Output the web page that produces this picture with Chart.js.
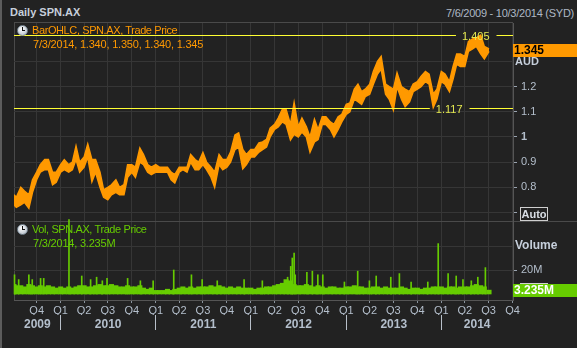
<!DOCTYPE html>
<html><head><meta charset="utf-8">
<script src="https://cdn.jsdelivr.net/npm/chart.js@4.4.1/dist/chart.umd.min.js"></script>
<style>
html,body{margin:0;padding:0;background:#ffffff;width:581px;height:351px;overflow:hidden}
#wrap{position:absolute;left:0;top:0;width:577px;height:348px;background:#222222;overflow:hidden}
#edge{position:absolute;left:0;top:0;width:2px;height:348px;background:#5c5c5c}
canvas{position:absolute;left:0;top:0}
.t{position:absolute;font-family:"Liberation Sans",Arial,sans-serif;font-size:11px;line-height:13px;white-space:nowrap}
.ln{position:absolute;background:#4a4a4a}
.clk{position:absolute;width:9px;height:9px;border-radius:50%;background:radial-gradient(circle at 40% 35%,#ffffff,#aab4c0);border:1px solid #7a8894}
.clk:before{content:"";position:absolute;left:4px;top:1px;width:1px;height:4px;background:#111}
.clk:after{content:"";position:absolute;left:4px;top:4px;width:3px;height:1px;background:#111}
</style></head><body>
<div id="wrap">
 <div id="edge"></div>
 <div class="t" style="left:10px;top:6px;font-weight:bold;color:#c6cfdb;">Daily SPN.AX</div>
 <div class="t" style="right:3px;top:7px;color:#aeb8c4;letter-spacing:-0.25px">7/6/2009 - 10/3/2014 (SYD)</div>
 <div class="t" style="left:515px;top:42px;font-weight:bold;color:#c6cfdb;">Price</div>
 <div class="t" style="left:520px;top:283px;width:26px;height:12px;border:1px solid #cfcfcf"></div>
 <div class="ln" style="left:14px;top:22px;width:499px;height:1px"></div>
 <div class="ln" style="left:14px;top:22px;width:1px;height:279px"></div>
 <div class="ln" style="left:14px;top:221px;width:563px;height:1px"></div>
 <canvas id="pc" width="577" height="348"></canvas>
 <canvas id="vc" width="577" height="348"></canvas>
 <div class="clk" style="left:17px;top:25px"></div>
 <div class="t" style="left:32px;top:24px;color:#ff9900;letter-spacing:-0.4px">BarOHLC, SPN.AX, Trade Price</div>
 <div class="t" style="left:33px;top:38px;color:#ff9900;letter-spacing:-0.2px">7/3/2014, 1.340, 1.350, 1.340, 1.345</div>
 <div class="clk" style="left:17px;top:224px"></div>
 <div class="t" style="left:32px;top:223px;color:#66cc00;letter-spacing:-0.4px">Vol, SPN.AX, Trade Price</div>
 <div class="t" style="left:33px;top:237px;color:#66cc00;letter-spacing:-0.2px">7/3/2014, 3.235M</div>
 <div class="t" style="left:515px;top:55px;font-weight:bold;color:#c6cfdb;">AUD</div>
 <div class="t" style="left:520px;top:207px;width:26px;height:12px;border:1px solid #cfcfcf;font-weight:bold;color:#d8dde4;text-align:center;line-height:12px">Auto</div>
 <div class="t" style="left:515px;top:239px;font-weight:bold;color:#c6cfdb;font-size:12px">Volume</div>
</div>
<script>
// ---------- data ----------
const dates = [
'2009-07-06','2009-07-15','2009-08-01','2009-08-15','2009-09-01','2009-09-15','2009-10-01','2009-10-15','2009-11-01','2009-11-15','2009-12-01','2009-12-15',
'2010-01-01','2010-01-15','2010-02-01','2010-02-15','2010-03-01','2010-03-15','2010-04-01','2010-04-15','2010-05-01','2010-05-15','2010-06-01','2010-06-15',
'2010-07-01','2010-07-15','2010-08-01','2010-08-15','2010-09-01','2010-09-15','2010-10-01','2010-10-15','2010-11-01','2010-11-15','2010-12-01','2010-12-15',
'2011-01-01','2011-01-15','2011-02-01','2011-02-15','2011-03-01','2011-03-15','2011-04-01','2011-04-15','2011-05-01','2011-05-15','2011-06-01','2011-06-15',
'2011-07-01','2011-07-15','2011-08-01','2011-08-15','2011-09-01','2011-09-15','2011-10-01','2011-10-15','2011-11-01','2011-11-15','2011-12-01','2011-12-15',
'2012-01-01','2012-01-15','2012-02-01','2012-02-15','2012-03-01','2012-03-15','2012-04-01','2012-04-15','2012-05-01','2012-05-15','2012-06-01','2012-06-15',
'2012-07-01','2012-07-15','2012-08-01','2012-08-15','2012-09-01','2012-09-15','2012-10-01','2012-10-15','2012-11-01','2012-11-15','2012-12-01','2012-12-15',
'2013-01-01','2013-01-15','2013-02-01','2013-02-15','2013-03-01','2013-03-15','2013-04-01','2013-04-15','2013-05-01','2013-05-15','2013-06-01','2013-06-15',
'2013-07-01','2013-07-15','2013-08-01','2013-08-15','2013-09-01','2013-09-15','2013-10-01','2013-10-15','2013-11-01','2013-11-15','2013-12-01','2013-12-15',
'2014-01-01','2014-01-15','2014-02-01','2014-02-15','2014-03-01','2014-03-15','2014-04-01','2014-04-15','2014-05-01','2014-05-15','2014-06-01','2014-06-15',
'2014-07-03'];
const priceHigh = [
0.77,0.76,0.80,0.785,0.77,0.83,0.86,0.89,0.91,0.91,0.86,0.86,
0.89,0.91,0.89,0.90,0.964,0.90,0.92,0.972,0.91,0.91,0.86,0.79,
0.80,0.81,0.83,0.80,0.81,0.89,0.89,0.88,0.956,0.93,0.89,0.88,
0.89,0.88,0.88,0.88,0.86,0.85,0.88,0.88,0.88,0.93,0.91,0.90,
0.938,0.90,0.88,0.86,0.93,0.91,0.91,0.94,1.008,1.016,0.95,0.93,
0.95,0.95,0.976,0.98,0.99,1.035,1.05,1.075,1.11,1.11,1.05,1.136,
1.04,1.075,1.04,1.0,1.07,1.03,1.08,1.08,1.06,1.05,1.08,1.09,
1.13,1.135,1.19,1.21,1.18,1.19,1.21,1.26,1.30,1.32,1.21,1.20,
1.19,1.255,1.2,1.19,1.18,1.21,1.22,1.24,1.26,1.25,1.17,1.19,
1.26,1.25,1.22,1.28,1.33,1.33,1.32,1.38,1.39,1.394,1.405,1.36,
1.35];
const priceLow = [
0.73,0.72,0.73,0.74,0.717,0.78,0.83,0.86,0.87,0.87,0.81,0.82,
0.86,0.87,0.86,0.87,0.91,0.86,0.88,0.92,0.822,0.86,0.80,0.76,
0.75,0.77,0.78,0.77,0.77,0.84,0.86,0.84,0.90,0.89,0.86,0.85,
0.86,0.86,0.86,0.86,0.83,0.817,0.86,0.87,0.86,0.90,0.87,0.87,
0.89,0.87,0.84,0.80,0.89,0.87,0.88,0.90,0.95,0.96,0.873,0.89,
0.92,0.92,0.94,0.95,0.96,1.0,1.03,1.04,1.06,1.05,0.988,1.01,
1.0,1.02,1.0,0.94,0.98,0.99,1.05,1.05,1.03,1.0,1.03,1.06,
1.09,1.10,1.15,1.14,1.13,1.16,1.17,1.21,1.25,1.27,1.17,1.15,
1.107,1.2,1.15,1.12,1.14,1.18,1.19,1.20,1.22,1.21,1.117,1.15,
1.22,1.21,1.18,1.23,1.29,1.28,1.28,1.34,1.35,1.36,1.33,1.31,
1.34];
const volumeM = [
8,7,7,6,8,7,6,7,6,7,6,5,
6,5,6,5,6,7,7,6,6,7,8,7,
7,8,7,6,6,7,6,6,7,5,4,5,
3,3,3,4,3,4,5,6,5,6,5,6,
6,6,7,6,7,6,5,6,5,6,5,5,
5,4,5,5,6,6,7,8,9,12,11,8,
7,7,8,7,6,7,6,5,6,6,5,5,
6,6,7,6,6,5,5,6,6,5,6,5,
5,5,6,5,4,5,5,4,5,5,6,6,
6,5,6,6,5,6,6,6,7,8,7,6,
3.235];
const spikeDates = ['2009-07-08','2009-07-24','2009-09-01','2009-09-14','2009-10-16','2009-10-28','2010-02-02','2010-03-23','2010-04-26','2010-05-19','2010-06-10','2010-06-28','2010-09-15','2010-11-03','2010-12-22','2011-03-11','2011-05-18','2011-06-28','2011-08-25','2011-12-06','2012-02-14','2012-05-21','2012-06-02','2012-06-08','2012-06-15','2012-06-19','2012-08-03','2012-08-24','2012-09-14','2012-10-03','2012-12-25','2013-02-14','2013-03-31','2013-04-26','2013-06-21','2013-07-24','2013-09-07','2013-11-10','2013-12-20','2014-01-27','2014-02-27','2014-03-25','2014-04-26','2014-05-21','2014-06-19'];
const spikeVolM = [16,12,16,12,13,13,62,15,12,14,11,13,13,11,11,20,16,12,11,12,11,14,23,30,34,16,18,19,16,16,10,19,11,15,14,17,10,10,42,17,15,12,11,14,22];
const priceTicks = [0.7,0.8,0.9,1.0,1.1,1.2,1.3];
const priceTickLabels = ['','0.8','0.9','1','1.1','1.2',''];
const volTicksM = [20,40];
const volTickLabels = ['20M',''];
const quarterLabels = ['Q1','Q2','Q3','Q4'];
const yearLabels = ['2009','2010','2011','2012','2013','2014'];
const refLines = [{value:1.405,label:'1.405',at:'2014-05-13'},{value:1.117,label:'1.117',at:'2014-01-31'}];
const lastPrice = {value:1.345,label:'1.345'};
const lastVol = {value:3.235,label:'3.235M'};
const rangeStart = '2009-07-06', rangeEnd = '2014-10-03';

// ---------- helpers ----------
const ts = s => { const p = s.split('-').map(Number); return Date.UTC(p[0], p[1]-1, p[2]); };
const X_MIN = ts(rangeStart), X_MAX = ts(rangeEnd);
const quarterTicks = [];
for (let y = 2009; y <= 2014; y++) for (let q = 0; q < 4; q++) {
  const v = Date.UTC(y, q*3, 1);
  if (v > X_MIN && v <= X_MAX) quarterTicks.push({value: v, label: quarterLabels[q]});
}
const yearTicks = [];
yearLabels.forEach((lab, i) => {
  const y = +lab;
  const a = Math.max(X_MIN, Date.UTC(y,0,1)), b = Math.min(X_MAX, Date.UTC(y+1,0,1));
  if (i > 0) yearTicks.push({value: Date.UTC(y,0,1), label: '', sep: true});
  yearTicks.push({value: (a+b)/2, label: lab, sep: false});
});
yearTicks.sort((p,q)=>p.value-q.value);

const FONT = '"Liberation Sans", Arial, sans-serif';
const TXT = '#b4bfcc';
const GRID = '#363636';
const ORANGE = '#ff9900';
const GREEN = '#66cc00';

const priceOverlay = {
  id: 'priceOverlay',
  afterDatasetsDraw(chart) {
    const ctx = chart.ctx, y = chart.scales.y, x = chart.scales.x, a = chart.chartArea;
    ctx.save();
    ctx.font = '11px ' + FONT;
    refLines.forEach(r => {
      const py = Math.round(y.getPixelForValue(r.value)) + 0.5;
      const cx = x.getPixelForValue(ts(r.at));
      const w = ctx.measureText(r.label).width;
      ctx.strokeStyle = '#ffff33'; ctx.lineWidth = 1;
      ctx.beginPath();
      ctx.moveTo(a.left, py); ctx.lineTo(cx - w/2 - 6, py);
      ctx.moveTo(cx + w/2 + 7, py); ctx.lineTo(a.right, py);
      ctx.stroke();
      ctx.fillStyle = '#e4e850'; ctx.textAlign = 'center'; ctx.textBaseline = 'middle';
      ctx.fillText(r.label, cx, py + 1);
    });
    ctx.restore();
  },
  afterDraw(chart) {
    const ctx = chart.ctx, y = chart.scales.y;
    const py = y.getPixelForValue(lastPrice.value);
    ctx.save();
    ctx.fillStyle = ORANGE;
    ctx.fillRect(y.left, Math.round(py) - 6, chart.width - y.left, 13);
    ctx.fillStyle = '#000'; ctx.font = 'bold 12px ' + FONT;
    ctx.textBaseline = 'middle'; ctx.textAlign = 'left';
    ctx.fillText(lastPrice.label, y.left + 1, Math.round(py) + 1);
    ctx.restore();
  }
};
const volOverlay = {
  id: 'volOverlay',
  afterDraw(chart) {
    const ctx = chart.ctx, y = chart.scales.y;
    const py = y.getPixelForValue(lastVol.value * 1e6);
    ctx.save();
    ctx.fillStyle = GREEN;
    ctx.fillRect(y.left, Math.round(py) - 6, chart.width - y.left, 13);
    ctx.fillStyle = '#fff'; ctx.font = 'bold 12px ' + FONT;
    ctx.textBaseline = 'middle'; ctx.textAlign = 'left';
    ctx.fillText(lastVol.label, y.left + 1, Math.round(py) + 1);
    ctx.restore();
  }
};

Chart.defaults.font.family = FONT;
Chart.defaults.font.size = 11;

// ---------- price chart (high/low band) ----------
new Chart(document.getElementById('pc'), {
  type: 'line',
  data: { datasets: [
    { data: dates.map((d,i) => ({x: ts(d), y: priceHigh[i]})),
      borderColor: ORANGE, backgroundColor: ORANGE, borderWidth: 1.5, pointRadius: 0, tension: 0, fill: false },
    { data: dates.map((d,i) => ({x: ts(d), y: priceLow[i]})),
      borderColor: ORANGE, backgroundColor: ORANGE, borderWidth: 1.5, pointRadius: 0, tension: 0, fill: '-1' }
  ]},
  options: {
    responsive: false, animation: false, events: [],
    layout: { padding: {left: 14, top: 23, right: 0, bottom: 127} },
    plugins: { legend: {display: false}, tooltip: {enabled: false} },
    scales: {
      x: { type: 'linear', min: X_MIN, max: X_MAX, offset: false,
        grid: { color: GRID, drawTicks: false, offset: false },
        border: { display: false },
        ticks: { display: false },
        afterBuildTicks: s => { s.ticks = quarterTicks.map(t => ({value: t.value})); },
        afterFit: s => { s.height = 0; } },
      y: { position: 'right', min: 0.666, max: 1.453,
        afterBuildTicks: s => { s.ticks = priceTicks.map(v => ({value: v})); },
        ticks: { color: TXT, padding: 4,
          callback: (v, i) => priceTickLabels[i],
          font: c => ({family: FONT, size: 11, weight: (c.tick && c.tick.value === 1) ? 'bold' : 'normal'}) },
        grid: { color: GRID, tickLength: 4,
          tickColor: c => (c.tick && c.tick.value > 1.25) ? 'rgba(0,0,0,0)' : '#9aa4b0' },
        border: { color: '#555' },
        afterFit: s => { s.width = 64; } }
    }
  },
  plugins: [priceOverlay]
});

// ---------- volume chart ----------
new Chart(document.getElementById('vc'), {
  type: 'bar',
  data: { datasets: [
    { data: dates.map((d,i) => ({x: ts(d), y: volumeM[i]*1e6})),
      backgroundColor: GREEN, borderWidth: 0, barThickness: 4.4, grouped: false },
    { data: spikeDates.map((d,i) => ({x: ts(d), y: spikeVolM[i]*1e6})),
      backgroundColor: GREEN, borderWidth: 0, barThickness: 1, grouped: false, clip: false }
  ]},
  options: {
    responsive: false, animation: false, events: [],
    layout: { padding: {left: 14, top: 222, right: 0, bottom: 16} },
    plugins: { legend: {display: false}, tooltip: {enabled: false} },
    scales: {
      x: { type: 'linear', min: X_MIN, max: X_MAX, offset: false, position: 'bottom',
        grid: { color: GRID, tickLength: 3, tickColor: '#8a949e', offset: false },
        border: { color: '#555' },
        afterBuildTicks: s => { s.ticks = quarterTicks.map(t => ({value: t.value})); },
        ticks: { color: TXT, padding: 1, autoSkip: false, maxRotation: 0,
          callback: (v, i) => quarterTicks[i].label },
        afterFit: s => { s.height = 15; } },
      x2: { type: 'linear', min: X_MIN, max: X_MAX, offset: false, position: 'bottom',
        grid: { drawOnChartArea: false, tickLength: 15, offset: false,
          tickColor: c => (c.tick && yearTicks[c.index] && yearTicks[c.index].sep) ? '#b8c0ca' : 'rgba(0,0,0,0)' },
        border: { display: false },
        afterBuildTicks: s => { s.ticks = yearTicks.map(t => ({value: t.value})); },
        ticks: { color: TXT, padding: -13, autoSkip: false, maxRotation: 0,
          font: {family: FONT, size: 12, weight: 'bold'},
          callback: (v, i) => yearTicks[i].label },
        afterFit: s => { s.height = 17; } },
      y: { position: 'right', min: -5e6, max: 60e6,
        afterBuildTicks: s => { s.ticks = volTicksM.map(v => ({value: v*1e6})); },
        ticks: { color: TXT, padding: 4, callback: (v, i) => volTickLabels[i] },
        grid: { color: GRID, tickLength: 4,
          tickColor: c => (c.index === 0) ? '#9aa4b0' : 'rgba(0,0,0,0)' },
        border: { color: '#555' },
        afterFit: s => { s.width = 64; } }
    }
  },
  plugins: [volOverlay]
});
</script>
</body></html>
